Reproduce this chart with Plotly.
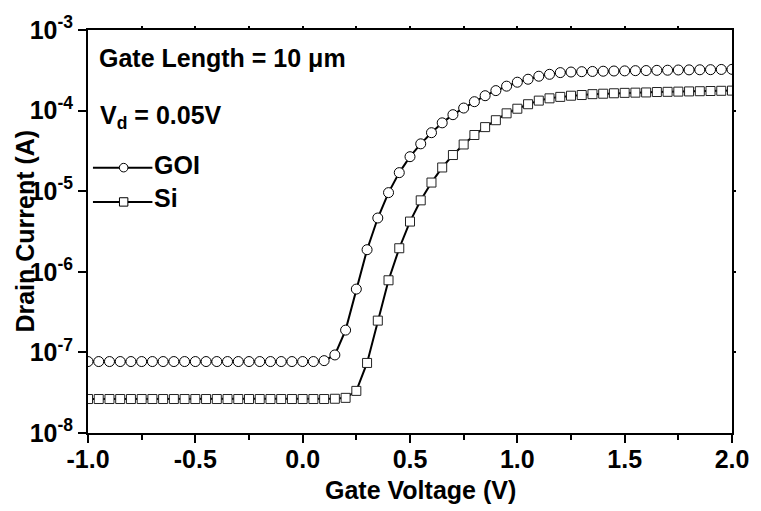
import plotly.graph_objects as go

# ---- data ----
gate_voltage = [-1.0, -0.95, -0.9, -0.85, -0.8, -0.75, -0.7, -0.65, -0.6, -0.55,
                -0.5, -0.45, -0.4, -0.35, -0.3, -0.25, -0.2, -0.15, -0.1, -0.05,
                0.0, 0.05, 0.1, 0.15, 0.2, 0.25, 0.3, 0.35, 0.4, 0.45,
                0.5, 0.55, 0.6, 0.65, 0.7, 0.75, 0.8, 0.85, 0.9, 0.95,
                1.0, 1.05, 1.1, 1.15, 1.2, 1.25, 1.3, 1.35, 1.4, 1.45,
                1.5, 1.55, 1.6, 1.65, 1.7, 1.75, 1.8, 1.85, 1.9, 1.95, 2.0]

goi_current = [7.7e-8, 7.7e-8, 7.7e-8, 7.7e-8, 7.7e-8, 7.7e-8, 7.7e-8, 7.7e-8, 7.7e-8, 7.7e-8,
               7.7e-8, 7.7e-8, 7.7e-8, 7.7e-8, 7.7e-8, 7.7e-8, 7.7e-8, 7.7e-8, 7.7e-8, 7.7e-8,
               7.7e-8, 7.7e-8, 7.9e-8, 9.3e-8, 1.89e-7, 6.1e-7, 1.88e-6, 4.65e-6, 9.6e-6, 1.70e-5,
               2.68e-5, 3.87e-5, 5.32e-5, 7.05e-5, 8.9e-5, 1.076e-4, 1.29e-4, 1.53e-4, 1.77e-4, 2.01e-4,
               2.25e-4, 2.45e-4, 2.67e-4, 2.82e-4, 2.96e-4, 3.01e-4, 3.04e-4, 3.06e-4, 3.08e-4, 3.10e-4,
               3.11e-4, 3.13e-4, 3.14e-4, 3.16e-4, 3.17e-4, 3.19e-4, 3.20e-4, 3.21e-4, 3.22e-4, 3.24e-4, 3.25e-4]

si_current = [2.64e-8, 2.64e-8, 2.64e-8, 2.64e-8, 2.64e-8, 2.64e-8, 2.64e-8, 2.64e-8, 2.64e-8, 2.64e-8,
              2.64e-8, 2.64e-8, 2.64e-8, 2.64e-8, 2.64e-8, 2.64e-8, 2.64e-8, 2.64e-8, 2.64e-8, 2.64e-8,
              2.64e-8, 2.64e-8, 2.64e-8, 2.66e-8, 2.73e-8, 3.33e-8, 7.4e-8, 2.48e-7, 7.85e-7, 1.96e-6,
              4.2e-6, 7.7e-6, 1.28e-5, 1.97e-5, 2.81e-5, 3.80e-5, 4.98e-5, 6.24e-5, 7.6e-5, 9.25e-5,
              1.055e-4, 1.20e-4, 1.33e-4, 1.42e-4, 1.48e-4, 1.53e-4, 1.56e-4, 1.60e-4, 1.62e-4, 1.64e-4,
              1.66e-4, 1.67e-4, 1.68e-4, 1.70e-4, 1.71e-4, 1.72e-4, 1.73e-4, 1.74e-4, 1.75e-4, 1.76e-4, 1.77e-4]

x_tickvals = [-1.0, -0.5, 0.0, 0.5, 1.0, 1.5, 2.0]
x_ticktext = ["-1.0", "-0.5", "0.0", "0.5", "1.0", "1.5", "2.0"]
y_tickvals = [1e-8, 1e-7, 1e-6, 1e-5, 1e-4, 1e-3]
y_ticktext = ["10<sup>-8</sup>", "10<sup>-7</sup>", "10<sup>-6</sup>",
              "10<sup>-5</sup>", "10<sup>-4</sup>", "10<sup>-3</sup>"]

series_names = ["GOI", "Si"]

# ---- figure ----
W, H = 761, 511
ML, MR, MT, MB = 88, 23, 24, 78
PW, PH = W - ML - MR, H - MT - MB
FONT = dict(family="Liberation Sans, Arial, sans-serif", size=25, color="black", weight="bold")


def px(xp):
    return (xp - ML) / PW


def py(yp):
    return (H - MB - yp) / PH


fig = go.Figure()
fig.add_trace(go.Scatter(
    x=gate_voltage, y=goi_current, mode="lines+markers", name=series_names[0],
    line=dict(color="black", width=2),
    marker=dict(symbol="circle", size=10, color="white", line=dict(color="black", width=1)),
))
fig.add_trace(go.Scatter(
    x=gate_voltage, y=si_current, mode="lines+markers", name=series_names[1],
    line=dict(color="black", width=2),
    marker=dict(symbol="square", size=9, color="white", line=dict(color="#222222", width=1)),
))
# carrier traces for the extra tick axes
fig.add_trace(go.Scatter(x=[], y=[], xaxis="x2", yaxis="y2", showlegend=False, hoverinfo="skip"))
fig.add_trace(go.Scatter(x=[], y=[], xaxis="x3", yaxis="y2", showlegend=False, hoverinfo="skip"))

fig.update_layout(
    width=W, height=H,
    margin=dict(l=ML, r=MR, t=MT, b=MB, pad=0),
    paper_bgcolor="white", plot_bgcolor="white",
    showlegend=False,
    font=FONT,
    xaxis=dict(
        range=[-1.0, 2.0], showgrid=False, zeroline=False,
        showline=True, linecolor="black", linewidth=2, mirror=True,
        ticks="outside", ticklen=8, tickwidth=1.5, tickcolor="black",
        tickvals=x_tickvals, showticklabels=False,
        minor=dict(tickvals=[-0.75, -0.25, 0.25, 0.75, 1.25, 1.75], ticks="outside",
                   ticklen=5, tickwidth=1.5, tickcolor="black", showgrid=False),
    ),
    xaxis3=dict(
        overlaying="x", side="bottom", anchor="y", range=[-1.0, 2.0],
        showgrid=False, zeroline=False, showline=False,
        ticks="outside", ticklen=4, tickcolor="rgba(0,0,0,0)",
        tickvals=x_tickvals, ticktext=x_ticktext, tickfont=FONT,
    ),
    yaxis=dict(
        type="log", range=[-8, -3], showgrid=False, zeroline=False,
        showline=True, linecolor="black", linewidth=2, mirror=True,
        ticks="outside", ticklen=8, tickwidth=1.5, tickcolor="black",
        tickvals=y_tickvals, ticktext=y_ticktext, tickfont=FONT,
    ),
    xaxis2=dict(
        overlaying="x", side="top", anchor="y", range=[-1.0, 2.0],
        showgrid=False, zeroline=False, showline=False, showticklabels=False,
        ticks="outside", ticklen=3, tickwidth=1.5, tickcolor="black",
        tickvals=[-0.75, -0.5, -0.25, 0.0, 0.25, 0.5, 0.75, 1.0, 1.25, 1.5, 1.75],
    ),
    yaxis2=dict(
        overlaying="y", side="right", anchor="x", type="log", range=[-8, -3],
        showgrid=False, zeroline=False, showline=False, showticklabels=False,
        ticks="outside", ticklen=3, tickwidth=1.5, tickcolor="black",
        tickvals=y_tickvals[1:-1],
    ),
)

annotations = [
    dict(text="Gate Voltage (V)", x=px(424), y=py(491), xref="paper", yref="paper",
         xanchor="center", yanchor="middle", showarrow=False, font=FONT),
    dict(text="Drain Current (A)", x=px(24), y=py(228), xref="paper", yref="paper",
         xanchor="center", yanchor="middle", textangle=-90, showarrow=False, font=FONT),
    dict(text="Gate Length = 10 \u03bcm", x=px(97), y=py(52), xref="paper", yref="paper",
         xanchor="left", yanchor="middle", showarrow=False, font=FONT),
    dict(text="V<sub>d</sub> = 0.05V", x=px(98), y=py(112), xref="paper", yref="paper",
         xanchor="left", yanchor="middle", showarrow=False, font=FONT),
    dict(text=series_names[0], x=px(153), y=py(161), xref="paper", yref="paper",
         xanchor="left", yanchor="middle", showarrow=False, font=FONT),
    dict(text=series_names[1], x=px(153), y=py(195), xref="paper", yref="paper",
         xanchor="left", yanchor="middle", showarrow=False, font=FONT),
]
fig.update_layout(annotations=annotations)

# hand-drawn legend keys
shapes = []
for yk, sym in [(163.7, "circle"), (198.5, "rect")]:
    shapes.append(dict(type="line", xref="paper", yref="paper",
                       x0=px(93), x1=px(153), y0=py(yk), y1=py(yk),
                       line=dict(color="black", width=2)))
    s = 4.3 if sym == "circle" else 4.2
    shapes.append(dict(type=sym, xref="paper", yref="paper",
                       xsizemode="pixel", ysizemode="pixel",
                       xanchor=px(124), yanchor=py(yk),
                       x0=-s, x1=s, y0=-s, y1=s,
                       fillcolor="white", line=dict(color="black", width=1)))
fig.update_layout(shapes=shapes)

fig.write_html("out.html")
